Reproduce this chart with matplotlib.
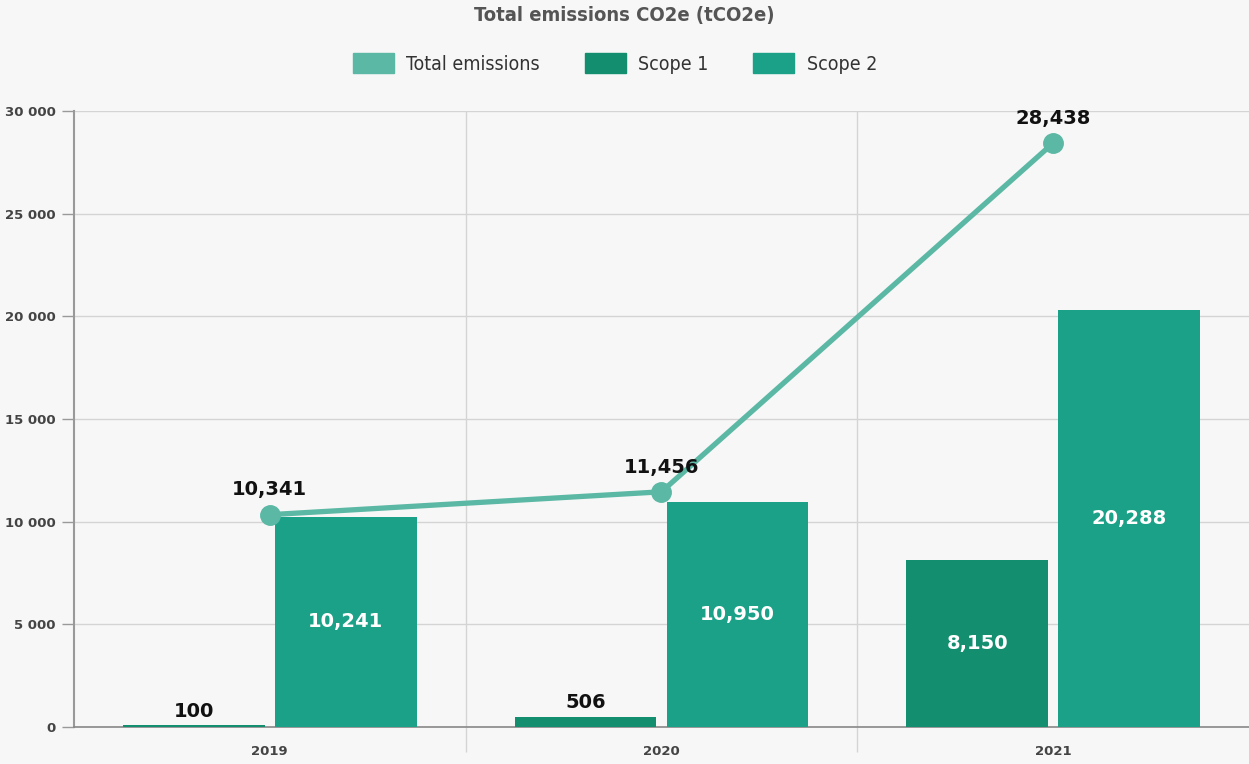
import numpy as np
import matplotlib.pyplot as plt
from matplotlib.patches import Patch
from matplotlib import font_manager

years = ['2019', '2020', '2021']
scope1 = [100, 506, 8150]
scope2 = [10241, 10950, 20288]
total = [10341, 11456, 28438]

c_total = '#5bb8a4'
c_scope1 = '#138e6f'
c_scope2 = '#1aa187'
bg = '#f7f7f7'

# pick a narrow face for the title and legend if one is around
names = {f.name for f in font_manager.fontManager.ttflist}
narrow = 'Liberation Sans Narrow' if 'Liberation Sans Narrow' in names else 'DejaVu Sans'

fig = plt.figure(figsize=(12.49, 7.64), dpi=100, facecolor=bg)
ax = fig.add_axes([0.0592, 0.0484, 0.9408, 0.8063], facecolor=bg)

x = np.arange(len(years))
w = 0.362
off = 0.194

ax.bar(x - off, scope1, w, color=c_scope1, zorder=3)
ax.bar(x + off, scope2, w, color=c_scope2, zorder=3)
ax.plot(x, total, color=c_total, lw=3.8, marker='o', ms=14, zorder=4)

# value labels
for xi, v in zip(x, scope1):
    if v < 2000:
        ax.annotate(f'{v:,}', (xi - off, v), xytext=(0, 3), textcoords='offset points',
                    ha='center', va='bottom', fontsize=14, fontweight='bold', color='#111111')
    else:
        ax.text(xi - off, v / 2, f'{v:,}', ha='center', va='center',
                fontsize=14, fontweight='bold', color='white', zorder=5)
for xi, v in zip(x, scope2):
    ax.text(xi + off, v / 2, f'{v:,}', ha='center', va='center',
            fontsize=14, fontweight='bold', color='white', zorder=5)
for xi, v in zip(x, total):
    ax.annotate(f'{v:,}', (xi, v), xytext=(0, 11), textcoords='offset points',
                ha='center', va='bottom', fontsize=14, fontweight='bold', color='#111111', zorder=5)

ax.set_xlim(-0.5, 2.5)
ax.set_ylim(0, 30000)
ax.set_yticks(range(0, 30001, 5000))
ax.set_yticklabels([f'{t:,}'.replace(',', ' ') for t in range(0, 30001, 5000)],
                   fontsize=9.5, fontweight='bold', color='#444444')
ax.set_xticks(x)
ax.set_xticklabels(years, fontsize=9.5, fontweight='bold', color='#444444')
ax.set_xticks([0.5, 1.5], minor=True)

ax.tick_params(axis='y', length=9, width=1, color='#999999', pad=4)
ax.tick_params(axis='x', which='major', length=0, pad=13)
ax.tick_params(axis='x', which='minor', length=18, width=1, color='#d4d4d4')

ax.grid(axis='y', color='#d4d4d4', lw=1, zorder=0)
ax.grid(axis='x', which='minor', color='#d4d4d4', lw=1, zorder=0)

for s in ['top', 'right']:
    ax.spines[s].set_visible(False)
ax.spines['left'].set_color('#999999')
ax.spines['left'].set_linewidth(1.5)
ax.spines['bottom'].set_color('#888888')
ax.spines['bottom'].set_linewidth(1.2)

fig.text(0.5, 0.992, 'Total emissions CO2e (tCO2e)', ha='center', va='top',
         fontsize=14.5, fontweight='bold', color='#555555', family=narrow,
         fontstretch='condensed')

handles = [Patch(color=c_total), Patch(color=c_scope1), Patch(color=c_scope2)]
fig.legend(handles, ['Total emissions', 'Scope 1', 'Scope 2'], loc='center',
           bbox_to_anchor=(0.4925, 0.917), ncol=3, frameon=False,
           prop={'family': narrow, 'size': 14, 'stretch': 'condensed'},
           labelcolor='#333333', handlelength=2.1, handleheight=1.2,
           handletextpad=0.65, columnspacing=2.3)

fig.savefig('out.png', dpi=100, facecolor=bg)
